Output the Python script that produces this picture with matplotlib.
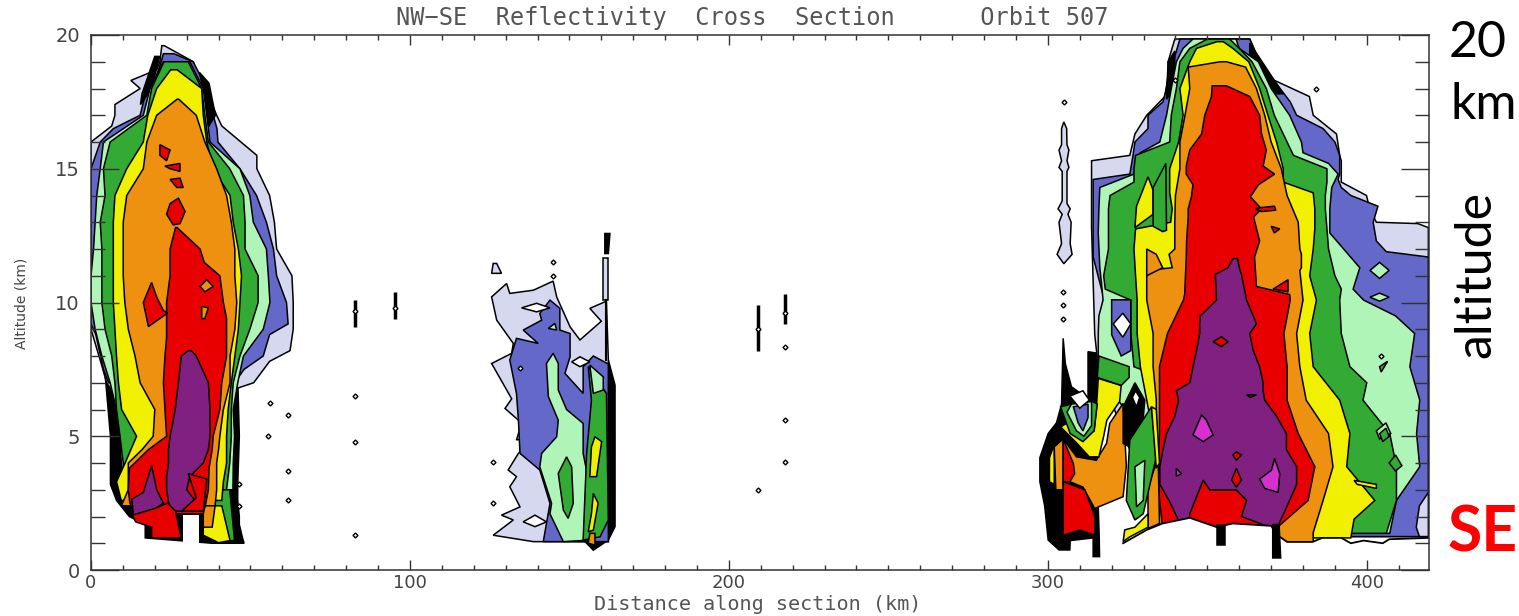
#!/usr/bin/env python3
import matplotlib
matplotlib.use("Agg")
import matplotlib.pyplot as plt

W, H = 1519, 616
LAV, BLUE, LTG, GRN = "#d5d8ee", "#6468c8", "#b0f5b8", "#33aa33"
YEL, ORG, RED, PUR, MAG = "#f0f000", "#ee9010", "#e80000", "#802080", "#d830d0"
LW = 1.1

X_TICKS = [0, 100, 200, 300, 400]
Y_TICKS = [0, 5, 10, 15, 20]
TITLE = "NW\u2212SE  Reflectivity  Cross  Section      Orbit 507"

# ---------------------------------------------------------------------------
# Storm 1, rows of (altitude, left km, right km) per reflectivity level
# ---------------------------------------------------------------------------
s1_blk = [(7.2, 4.5, 46), (5, 6.1, 46.5), (3.2, 6.1, 46), (2.6, 8, 46), (2, 12, 46.5),
          (1.7, 17, 46.5), (1.2, 17, 47.5), (1.0, 38, 48)]
s1_lav = [(19.6, 22.2, 23), (19, 21.6, 32.1), (18.7, 20.6, 33), (18.3, 12.5, 34.2), (18, 15.4, 37),
          (17.4, 7.5, 38), (17, 7.5, 39.4), (16.6, 6.5, 41), (16, 0, 47), (15.5, 0, 52), (15, 0, 52),
          (14, 0, 56), (13, 0, 57.5), (12, 0, 58.2), (11, 0, 63), (10, 0, 63.4), (9, 0, 63.4),
          (8.2, 2, 62.4), (7.8, 3, 56), (7, 4.9, 51), (6.8, 6, 46)]
s1_blue = [(19.3, 22.7, 26), (19, 22, 32), (18.5, 20.6, 34.2), (18, 17.5, 35.7), (17, 15.4, 38.3),
           (16.5, 7, 39.5), (16, 2.9, 39.8), (15, 0, 46.7), (14, 0, 51.9), (13, 0, 55), (12, 0, 57.2),
           (11, 0, 58.2), (10, 0, 61.3), (9.2, 0, 61.8), (8.8, 1.5, 56), (8, 3, 54), (7.5, 3.9, 48),
           (7, 5.5, 45)]
s1_ltg = [(19, 22.7, 31), (18, 18.5, 35.2), (17, 16.4, 36.3), (16, 3.9, 37.3), (15, 2.9, 46.7),
          (14, 1.8, 49.8), (13, 1.3, 50.9), (12, 0.8, 55), (11, 0, 55.6), (10, 0, 56.1), (9, 1.3, 54),
          (8, 3.4, 47.8), (7, 6, 46), (6, 8, 44.6), (5, 9, 45), (4, 9.5, 44.6), (3, 9.5, 44.5)]
s1_grn = [(19, 22.9, 30.5), (18, 19, 34.7), (17, 17.5, 35.7), (16, 6, 36.8), (15, 3.9, 43.5),
          (14, 4.4, 47.8), (13, 2.9, 48.3), (12, 3.4, 48.3), (11, 3.4, 52.4), (10, 3.4, 52.4),
          (9, 4.4, 49.8), (8, 6.5, 46.7), (7, 7.5, 44.6), (6, 8, 44), (5, 9.1, 44), (4, 10.1, 43.5),
          (3, 9.7, 42.5), (2.6, 10, 42.5)]
s1_yel = [(18.7, 25, 27), (18, 20.6, 34.7), (17, 17.8, 35.2), (16, 16.4, 36.3), (15, 11.2, 38.3),
          (14, 7.5, 43.6), (13, 7, 44.6), (12, 7, 46.2), (11, 7, 47.2), (10, 7, 46.7), (9, 7.5, 46.2),
          (8, 8, 45.1), (7, 8.6, 44), (6, 9.6, 43), (5, 14.3, 42.5), (4, 10.7, 42.5), (3.3, 8, 41.5),
          (2.6, 9.5, 41)]
s1_org = [(17.6, 27, 27.5), (17, 20.6, 33), (16, 17.5, 35.7), (15, 16.4, 39.4), (14, 11.2, 42.5),
          (13, 10.1, 44), (12, 10.1, 45.1), (11, 10.1, 45.1), (10, 10.6, 45.7), (9, 11.7, 45.1),
          (8, 13.8, 43.6), (7, 15.4, 43.6), (6, 20, 41.5), (5, 19.5, 40.4), (4.5, 16, 40),
          (4, 11.7, 39.4), (3, 11.7, 39.4), (2.4, 9.5, 38.9)]
s1_red = [(12.8, 26.5, 27), (12, 24.8, 34.2), (11.5, 24.8, 35.5), (11, 24.8, 40.4), (10, 23.7, 41.5),
          (9.4, 23.7, 42.5), (8.7, 23.7, 42.5), (8, 23.2, 42.5), (7, 22.7, 41), (6, 23.2, 40.4),
          (5, 23.7, 38.3), (4.5, 18, 38), (3.8, 12, 37), (3, 11.7, 36.8), (2.5, 12.2, 36),
          (2.1, 14, 35.2)]
s1_pur = [(8.2, 30.5, 31.5), (8, 28.3, 33), (7, 27.4, 36.8), (6, 26.4, 37.3), (5, 24.8, 37.3),
          (4.5, 24.3, 36.8), (4, 24.3, 35.2), (3.5, 23.7, 31), (3, 23.7, 30), (2.2, 24.8, 35.2)]

# Storm 1 patches, as (km, altitude) outlines
s1_blk_right = [(34, 18.6), (37, 18.2), (39, 17), (36.5, 16.5), (35.5, 17.8)]
s1_blk_left = [(20, 19.2), (21.5, 19.2), (19, 18), (15.5, 17.4), (16, 17.8)]
s1_foot_grn = [(36, 3), (43.5, 3), (45, 1.1), (38, 1.1)]
s1_foot_yel = [(35.2, 2.4), (41, 2.4), (43.6, 1.1), (40, 1.02), (35.2, 1.3)]
s1_foot_org = [(35.2, 2.4), (38.9, 2.4), (38, 1.6), (35.2, 1.6)]
s1_red_lobe = [(19, 10.75), (20.6, 10.2), (22.7, 9.7), (24, 9.6), (18, 9.1), (16.4, 10)]
s1_red_isl = [[(21.6, 15.9), (24.8, 15.7), (23.7, 15.3), (21.6, 15.5)],
              [(23.2, 15.1), (27.9, 15.2), (27.9, 14.9), (24.8, 15)],
              [(24.8, 14.6), (27.9, 14.65), (28.9, 14.3), (26.9, 14.3)],
              [(27.4, 13.9), (29.5, 13.4), (27.9, 12.95), (25.8, 12.9), (23.7, 13.3), (24.8, 13.7)]]
s1_org_isl = [[(36.3, 10.85), (38.3, 10.6), (35.7, 10.4), (34.2, 10.6)],
              [(34.7, 9.85), (36.8, 9.8), (35.7, 9.4), (34.7, 9.4)]]
s1_pur_lobe = [(12.8, 2.65), (16.4, 2.9), (19, 3.9), (20.6, 3), (22.7, 2.5), (20, 2.28), (13.3, 2.05)]
s1_red_base = [(13, 2.05), (20, 2.3), (24, 2.5), (26.5, 2.2), (28.3, 1.2), (19, 1.2), (19, 1.6), (14, 1.8)]
s1_red_right = [(30.5, 3.6), (36.3, 3.4), (35.2, 2.2), (28.4, 2.2), (33, 2.7)]
s1_notch = [(28.8, 2.05), (33.8, 2.05), (33.8, 0.9), (28.8, 0.9)]

# ---------------------------------------------------------------------------
# Middle storm
# ---------------------------------------------------------------------------
m_lav = [(125.6, 10.21), (130.3, 10.71), (131.3, 10.34), (138.7, 10.46), (144.9, 10.8), (146, 10.21),
         (150.2, 9.09), (153.3, 8.6), (160, 9.3), (156.4, 9.78), (161.6, 10.05), (162.2, 7.85),
         (162.2, 1.06), (138.7, 1.06), (126.1, 1.3), (132.4, 1.87), (128.7, 2.05), (134.5, 2.36),
         (131.3, 3.11), (133.4, 3.49), (130.8, 3.74), (134, 4.36), (138.1, 4.98), (133.4, 4.86),
         (135, 5.48), (134, 5.6), (129.8, 6.04), (131.9, 6.4), (125.6, 7.72), (131.9, 8.1),
         (132.4, 8.47), (127.2, 9.34)]
m_lav_isl = [(126.1, 11.46), (125.6, 11.09), (128.7, 11.09), (127.2, 11.46)]
m_lav_spike = [(160.4, 11.65), (162.2, 11.65), (162.2, 10.09), (160.6, 10.09)]
m_blk_spike = [(161.1, 12.58), (162.7, 12.58), (162.2, 11.83), (161.1, 11.83)]
m_blk_col = [(162.2, 7.85), (164.3, 6.91), (164.3, 1.62), (162.2, 1.12), (157.5, 0.74), (154.9, 1.06), (160, 7)]
m_blue = [(143.9, 10.09), (147, 9.78), (147, 8.97), (150.2, 8.84), (150.2, 7.97), (148.6, 7.35),
          (154.3, 6.6), (154.3, 7.6), (157.5, 8), (162.2, 7.7), (162.2, 1.06), (141.8, 1.06),
          (143.9, 2.49), (140.7, 3.74), (134.5, 4.36), (134, 5.6), (133.4, 6.6), (131.3, 7.85),
          (133.4, 8.66), (140.2, 8.47), (135.5, 8.97), (141.3, 9.34), (140.7, 9.59)]
m_ltg = [(144.9, 8.1), (146.5, 7.72), (146.5, 6.73), (149.1, 6), (154.3, 5.48), (154.3, 4.36),
         (156.4, 3.11), (156.4, 1.12), (148.1, 1.06), (143.9, 2.1), (144.4, 2.49), (140.7, 3.86),
         (141.3, 4.36), (146, 4.98), (146.5, 5.6), (143.4, 6.48), (142.8, 7.72)]
m_ltg_isl = [(143.4, 9.03), (145.4, 9.22), (146, 8.97)]
m_grn_isl = [(149.1, 4.23), (150.7, 3.86), (151.2, 2.49), (149.6, 1.93), (148.1, 2.24), (146.5, 3.61)]
m_grn_col = [(155.9, 7.6), (161.6, 6.6), (162.2, 1.87), (159.6, 1.24), (154.3, 1.12), (155.4, 4.36), (156.9, 6.35)]
m_ltg_col = [(156.4, 7.66), (160.6, 7.22), (160.6, 6.73), (157.5, 6.6)]
m_yel = [[(158, 4.98), (160.1, 4.8), (158.5, 3.49), (156.4, 3.49), (156.9, 4.6)],
         [(157.5, 2.86), (159, 2.5), (157.5, 1.49), (155.9, 1.43), (156.9, 2.1)]]
m_org = [(156.4, 1.37), (158, 1.37), (158, 0.93), (155.9, 1)]
m_white = [[(135, 9.8), (139.7, 9.97), (143.9, 9.8), (139.7, 9.65)],
           [(135.5, 1.8), (139.2, 2.05), (142.8, 1.8), (139.2, 1.62)],
           [(150.7, 7.78), (153.3, 7.97), (156.4, 7.78), (153.3, 7.6)]]

# ---------------------------------------------------------------------------
# Storm 3, main tower rows of (altitude, left km, right km)
# ---------------------------------------------------------------------------
s3_lav = [(19.85, 339.8, 363.3), (19, 337.7, 366.4), (18.5, 337.7, 367.5), (17.7, 336.7, 382),
          (17, 331, 383.2), (16.3, 327.3, 390.5), (15.5, 325.7, 391.5), (15.3, 313.7, 392),
          (14.5, 313.7, 392), (14, 313.7, 399.9), (13.5, 313.7, 400.9), (13, 313.7, 403),
          (12.95, 313.7, 416), (12.8, 313.7, 419.3), (8.8, 314.7, 419.3), (7.6, 315.8, 419.3),
          (1.25, 336, 419.3)]
s3_blue = [(19.85, 341.4, 363.3), (19, 339.3, 366.4), (17.5, 336.1, 376), (17, 331.4, 378),
           (16.5, 331.4, 386.3), (16, 327.3, 390), (15.5, 326.7, 391.5), (14.8, 325.7, 391.5),
           (14.6, 314.2, 391), (14.3, 314.2, 392), (14, 314.2, 395), (13.6, 314.2, 403.5),
           (13, 314.2, 402), (12.3, 314.2, 403), (11.9, 314.2, 406.1), (11.7, 314.2, 419.3),
           (1.25, 337, 419.3)]
s3_ltg = [(19.85, 345.5, 359), (19.5, 342.4, 360), (19, 340.3, 366), (18, 338.7, 370), (17, 337.2, 375.8),
          (16, 335.1, 379.5), (15.6, 329, 380), (15.2, 328, 388), (14.8, 327, 391), (14.3, 316.3, 389),
          (13.5, 316, 388.4), (12.6, 315.8, 388.4), (11.3, 316.3, 397.8), (10.5, 317, 395.7),
          (10.09, 317.3, 399), (9.5, 316, 409), (8.84, 315.8, 415), (7.6, 315.8, 413.5),
          (6.35, 322, 416.6), (5.1, 330, 415.6), (3.86, 335, 416.6), (2.6, 336, 409.3), (1.37, 337, 407.2)]
s3_grn = [(19.85, 350, 357), (19.5, 344.5, 360), (19, 341.4, 364), (18, 340.3, 368.5), (17, 338.7, 371),
          (16, 338.2, 375), (15.5, 327.5, 377), (15, 327, 387.5), (14.5, 327, 387.5), (14, 319.5, 387),
          (13.5, 319, 387), (12, 319, 388), (11, 317.5, 390), (10.5, 318, 392), (10.09, 326, 391.5),
          (8.84, 326, 392), (7.6, 327, 394.7), (7, 340, 400), (6.35, 336, 398.8), (5.1, 336, 407.2),
          (3.86, 336, 409.3), (2.6, 337, 409.3), (1.37, 337, 406.1)]
s3_yel = [(19.75, 353, 355), (19.5, 346.6, 358), (19, 344.5, 363), (18, 341.4, 366.4), (17, 342.4, 369),
          (16, 341, 371.7), (15, 338.2, 373.8), (14.5, 338.2, 373.8), (14.1, 338.2, 383.2),
          (13.5, 339, 383.7), (13, 338.5, 383.7), (12.75, 327.5, 383.7), (12, 327, 383.2), (11, 327.5, 382.1),
          (10.09, 328, 384.2), (8.84, 328, 382.1), (7.6, 329, 383.2), (6.35, 331, 391.5), (5.1, 333, 394.7),
          (3.86, 333, 393.7), (2.6, 333, 402.5), (1.9, 335, 396), (1.2, 336, 395)]
s3_org = [(19, 354, 356), (18.8, 344, 362), (18, 344.5, 365.4), (17, 343, 368), (16, 341.4, 370),
          (15, 341.4, 373.2), (14, 340, 375), (13, 339.8, 378.5), (12, 339.8, 379), (11.8, 338, 379.5),
          (11.3, 339, 379.5), (11.2, 331, 379), (10.09, 331, 380), (8.84, 333, 378), (7.6, 333, 379),
          (6.35, 334, 381), (5.1, 334, 388), (3.86, 333, 389.4), (2.6, 332, 386.3), (1.4, 331.5, 383.2),
          (1.0, 372, 383.2)]
s3_red = [(18.1, 351.5, 356), (17.7, 351.3, 363.3), (17, 349.2, 366.4), (16.3, 348.2, 367),
          (15.7, 344.5, 368.5), (15.1, 343.4, 367.5), (14.8, 343.4, 371.1), (14.4, 345.5, 366),
          (13.95, 345, 363.5), (13.5, 344, 367), (13.2, 344, 364.5), (12.3, 343.5, 366.4), (11.7, 343.4, 364.8),
          (10.6, 343, 365.4), (10.3, 342.9, 375.8), (10.09, 342.5, 376), (8.84, 337.5, 374), (7.6, 335, 375),
          (6.35, 335, 375), (5.1, 335, 378.5), (3.86, 334.5, 383.7), (2.6, 335, 381.6), (1.6, 336, 372)]
s3_pur = [(11.64, 358, 359.5), (11.3, 356.5, 360), (11.05, 352.5, 360.7), (10.09, 352.9, 362.3),
          (9.5, 347.8, 364.4), (9.2, 347.6, 365.4), (8.84, 347.6, 363.3), (8.2, 346.6, 364.4),
          (7.6, 345.5, 366.4), (7, 344.5, 367.5), (6.7, 340.3, 367.5), (6.35, 341, 368), (5.75, 339.8, 371.7),
          (5.1, 337.2, 374.8), (4.5, 336.1, 374.8), (3.86, 335.1, 378), (3.2, 335.1, 378), (2.6, 338, 375.8),
          (1.6, 342, 372)]

# Storm 3 patches, as (km, altitude) outlines
s3_blk_left = [(337.7, 19), (339.8, 19.4), (339.8, 18), (337.2, 17.6)]
s3_blk_right = [(363.3, 19.7), (373.8, 17.8), (371.7, 17.8), (363.3, 19.2)]
s3_yel_lobe = [(331.4, 14.7), (333, 14.2), (333, 13.3), (327.3, 12.8), (327.8, 13.6)]
s3_grn_finger = [(333, 14.3), (337, 15.2), (337.2, 12.7), (336, 12.65), (333, 12.85)]
s3_org_lobe = [(331, 12), (334, 11.8), (336, 11.3), (331, 11)]
s3_red_tail = [(365, 13.5), (367, 13.55), (371, 13.6), (371.5, 13.45), (367, 13.4)]
s3_red_isl = [[(370.6, 10.5), (375.3, 10.85), (375.3, 10.4)],
              [(370, 12.85), (372.7, 12.75), (371, 12.6)],
              [(354.4, 8.72), (356.5, 8.53), (354.4, 8.35), (351.8, 8.53)],
              [(359.1, 4.42), (360.7, 4.3), (359.1, 4.1), (358, 4.3)],
              [(359.1, 3.8), (360.7, 3.36), (359.1, 3.1), (357.6, 3.36)],
              [(362.3, 6.55), (365.4, 6.55), (363.5, 6.45)]]
s3_red_base = [(344.5, 2.1), (348.7, 3.36), (350.8, 2.99), (359.1, 2.99), (362.3, 2.6), (360.7, 2),
               (369.6, 1.6), (344, 1.6)]
s3_mag = [[(348.2, 5.8), (349.7, 5.6), (351.8, 5.05), (348.7, 4.8), (345.5, 5.05), (346.6, 5.35)],
          [(371.1, 4.17), (372.7, 3.6), (372.2, 2.9), (368, 3.05), (366.4, 3.4), (370.1, 3.73)],
          [(340.3, 3.8), (341.9, 3.6), (340.3, 3.5)]]
s3_ltg_isl = [[(401, 11.2), (404, 11.5), (407, 11.2), (404, 10.9)],
              [(401, 10.2), (404, 10.35), (407, 10.2), (404, 10.05)],
              [(403, 5.2), (406, 5.5), (407.5, 5.1), (404, 4.9)]]
s3_grn_isl = [[(404, 7.6), (406.5, 7.8), (404.5, 7.4)], [(404, 5.1), (406, 5.3), (407, 5), (405, 4.8)],
              [(407, 4), (409, 4.3), (411, 3.9), (409, 3.7)]]
s3_yel_isl = [(396, 3.35), (403, 3.2), (403, 3.05), (397, 3.2)]
s3_lav_corner = [(419.3, 2.9), (416.5, 2.4), (415.5, 1.6), (416.5, 1.25), (419.3, 1.25)]
s3_spire = [(305, 16.75), (305.9, 16.5), (306, 15.9), (306.6, 15.7), (306, 15.3), (306.6, 15.05), (306, 14.9),
            (306, 13.7), (307, 13.5), (306.3, 13.3), (307.3, 13), (307, 12.2), (307.6, 11.8), (305, 11.45),
            (302.9, 11.8), (304.3, 12.2), (303.5, 13), (304.5, 13.3), (303.2, 13.5), (304.5, 13.8),
            (304.5, 14.9), (303.5, 15.05), (304.3, 15.3), (303.5, 15.7), (304.3, 15.9), (304.3, 16.5)]
s3_mask = [(323.6, 1.0), (331, 1.5), (336, 1.74), (344.5, 1.95), (353, 1.6), (358, 1.74), (370, 1.65),
           (372, 1.3), (375, 1.05), (383, 1.05), (386, 1.2), (392, 1.2), (395, 1.0), (399, 1.1), (405, 1.0),
           (407, 1.15), (419.3, 1.2)]
s3_mask_low = [(419.3, 0.4), (323.6, 0.4)]
s3_stubs = [[(352.9, 1.7), (355.5, 1.7), (355.5, 0.95), (352.9, 0.95)],
            [(370.5, 1.7), (372.5, 1.7), (373, 0.45), (370.5, 0.45)]]
s3_gap = [(316.5, 2.3), (319.5, 2.45), (323.1, 2.4), (323.1, 0.4), (316.5, 0.4)]

# Left side lobes of storm 3
s3_blk = [(297.5, 4.2), (300.1, 5.1), (302.7, 5.5), (304.3, 6.2), (304.8, 8.66), (305.5, 7.7), (307.4, 6.85),
          (312.6, 6.4), (312.6, 8.16), (315.8, 8.1), (315.8, 2.36), (316.3, 0.5), (314.2, 0.5), (314.2, 1.2),
          (307, 1.1), (306.9, 0.75), (303.5, 0.75), (300.1, 1.12), (299, 2.4), (297.5, 3.3)]
s3_sub_yel_l = [(300.5, 4.2), (302, 4.7), (302, 3.2), (300.5, 3.3)]
s3_sub_org_l = [(302, 4.6), (304.8, 4.9), (304.8, 3), (302.5, 3)]
s3_sub_org = [(304.8, 4.9), (309, 4.23), (315.2, 4.1), (318.4, 4.73), (319.4, 5.48), (323.6, 6.23), (324.6, 3.9),
              (323.6, 2.74), (314.7, 2.3), (311, 3.1), (306.9, 3.3)]
s3_sub_red = [(304.8, 3.3), (311.6, 3), (314.7, 2), (314.7, 1.3), (310, 1.5), (304.8, 1.3)]
s3_sub_red2 = [(304.8, 4.9), (308, 3.98), (308.4, 3.6), (306.9, 3.3), (304.8, 3.3)]
s3_sub_yel = [(304, 5.35), (309, 4.75), (313, 4.23), (316, 4.23), (317.5, 5), (318.5, 5.6), (322.5, 6.3), (323, 6.9),
              (315.8, 7.16), (315.2, 6), (314.5, 5.2), (312, 5), (307.5, 5.6)]
s3_sub_grn = [(304, 6.1), (307, 5.1), (311, 4.8), (314.5, 5.2), (315.5, 6.2), (312.6, 6.4), (307.4, 6.2)]
s3_sub_grn_up = [(315.5, 7.2), (323, 6.9), (325.5, 7.2), (325.5, 7.6), (316, 8)]
s3_sub_ltg = [(306, 5.9), (309, 5.2), (311.3, 5), (313.7, 5.4), (313.7, 6.3), (307.4, 6.2)]
s3_sub_blue = [(308, 6.1), (309.5, 5.5), (311, 5.2), (312.6, 5.7), (312.6, 6.2)]
s3_sub_white = [(306.9, 6.5), (310, 6.05), (313, 6.35), (311, 6.7)]
s3_pocket_blue = [(320, 10.1), (326, 10.1), (326, 8.2), (323, 8), (320, 8.8)]
s3_pocket_white = [(320.5, 9.2), (323.5, 9.6), (326, 9.2), (323.5, 8.7)]
s3_col_blk = [(323.6, 6.1), (327.3, 7), (330.4, 6.35), (329.3, 4.86), (327.3, 4.5), (323.6, 4.73)]
s3_col_white = [(326.5, 6.45), (327.5, 6.7), (328.8, 6.45), (327.8, 6.1)]
s3_col_grn = [(325.7, 4.86), (332.5, 6.1), (334, 4.23), (329.9, 2.1), (327.3, 1.87), (324.6, 2.6)]
s3_col_ltg = [(327.3, 3.86), (330.4, 4.1), (329.9, 2.6), (327.8, 2.36)]
s3_col_yel = [(332.5, 6.1), (334, 6), (335, 4), (334, 3.8)]
s3_col_org = [(331.4, 3.1), (334.6, 4.2), (335, 1.74), (331.4, 1.55)]
s3_col_base = [(324.1, 1.5), (327.3, 1.6), (331.4, 2.1), (331.4, 1.6), (325.7, 1.24), (323.6, 1.06)]

# Isolated echoes
iso_km = [82.8, 95.3, 209, 217.5, 82.8, 82.8, 82.8, 209, 217.6, 217.6, 217.6, 55.5, 61.8, 61.8, 61.8, 56,
          144.9, 144.9, 126.1, 126.1, 134.5, 305, 304.8, 304.8, 304.8, 340, 384, 46.5, 46.5, 404.5]
iso_alt = [9.7, 9.8, 9, 9.6, 6.5, 4.8, 1.3, 3, 5.6, 4.05, 8.35, 5, 5.8, 3.7, 2.6, 6.25,
           11.5, 11, 4.05, 2.5, 7.55, 17.5, 10.4, 9.9, 9.4, 18.3, 18, 3.2, 2.4, 8]
iso_tall_km = [82.8, 95.3, 209, 217.5]
iso_tall_lo = [9.1, 9.4, 8.2, 9.2]
iso_tall_hi = [10.1, 10.4, 9.9, 10.3]


def poly(verts, color, lw=LW):
    xs, ys = zip(*verts)
    ax.fill(xs, ys, facecolor=color, edgecolor="black", linewidth=lw)


def band(rows, color):
    lefts = [(r[1], r[0]) for r in rows]
    rights = [(r[2], r[0]) for r in rows[::-1]]
    poly(lefts + rights, color)


fig = plt.figure(figsize=(W / 100, H / 100), dpi=100, facecolor="white")
ax = fig.add_axes([91 / W, 1 - 570 / H, (1429 - 91) / W, (570 - 35) / H])

# storm 1
band(s1_blk, "black")
band(s1_lav, LAV)
band(s1_blue, BLUE)
poly(s1_blk_right, "black")
poly(s1_blk_left, "black")
band(s1_ltg, LTG)
band(s1_grn, GRN)
poly(s1_foot_grn, GRN)
band(s1_yel, YEL)
poly(s1_foot_yel, YEL)
band(s1_org, ORG)
poly(s1_foot_org, ORG)
band(s1_red, RED)
poly(s1_red_lobe, RED)
for v in s1_red_isl:
    poly(v, RED)
for v in s1_org_isl:
    poly(v, ORG)
band(s1_pur, PUR)
poly(s1_pur_lobe, PUR)
poly(s1_red_base, RED)
poly(s1_red_right, RED)
poly(s1_notch, "white", lw=0)

# middle storm
poly(m_blk_col, "black")
poly(m_lav, LAV)
poly(m_lav_isl, LAV)
poly(m_lav_spike, LAV)
poly(m_blk_spike, "black")
ax.plot([161.6, 161.6], [10.09, 7.85], color="black", lw=1.5)
poly(m_blue, BLUE)
poly(m_ltg, LTG)
poly(m_ltg_isl, LTG)
poly(m_grn_isl, GRN)
poly(m_grn_col, GRN)
poly(m_ltg_col, LTG)
for v in m_yel:
    poly(v, YEL)
poly(m_org, ORG)
for v in m_white:
    poly(v, "white")

# storm 3
poly(s3_blk, "black")
poly(s3_spire, LAV)
band(s3_lav, LAV)
band(s3_blue, BLUE)
poly(s3_blk_left, "black")
poly(s3_blk_right, "black")
for rows, c in [(s3_ltg, LTG), (s3_grn, GRN), (s3_yel, YEL)]:
    band(rows, c)
poly(s3_yel_lobe, YEL)
poly(s3_grn_finger, GRN)
band(s3_org, ORG)
poly(s3_org_lobe, ORG)
band(s3_red, RED)
poly(s3_red_tail, RED)
band(s3_pur, PUR)
poly(s3_red_base, RED)
for v in s3_red_isl:
    poly(v, RED)
for v in s3_mag:
    poly(v, MAG)
for v in s3_ltg_isl:
    poly(v, LTG)
for v in s3_grn_isl:
    poly(v, GRN)
poly(s3_yel_isl, YEL)
poly(s3_lav_corner, LAV)
for v, c in [(s3_sub_yel_l, YEL), (s3_sub_org_l, ORG), (s3_sub_org, ORG), (s3_sub_red, RED), (s3_sub_red2, RED),
             (s3_sub_yel, YEL), (s3_sub_grn, GRN), (s3_sub_grn_up, GRN), (s3_sub_ltg, LTG), (s3_sub_blue, BLUE),
             (s3_sub_white, "white"), (s3_pocket_blue, BLUE), (s3_pocket_white, "white"),
             (s3_col_org, ORG), (s3_col_blk, "black"), (s3_col_white, "white"), (s3_col_grn, GRN),
             (s3_col_ltg, LTG), (s3_col_yel, YEL)]:
    poly(v, c)
poly(s3_gap, "white", lw=0)
poly(s3_mask + s3_mask_low, "white", lw=0)
ax.plot(*zip(*s3_mask), color="black", lw=1.3)
poly(s3_col_base, YEL)
for v in s3_stubs:
    poly(v, "black")

# isolated echoes
ax.vlines(iso_tall_km, iso_tall_lo, iso_tall_hi, color="black", lw=2.5)
ax.plot(iso_km, iso_alt, ls="none", marker="D", ms=2.5, mfc="white", mec="black", mew=1)

ax.set_xlim(0, 419.5)
ax.set_ylim(0, 20)
ax.set_xticks(X_TICKS)
ax.set_yticks(Y_TICKS)
ax.set_xticks(range(0, 420, 10), minor=True)
ax.set_yticks(range(0, 21), minor=True)
ax.tick_params(axis="x", which="major", direction="in", top=True, bottom=True, length=7.5, width=1,
               color="#333333", labelsize=13, labelcolor="#444444", pad=3)
ax.tick_params(axis="x", which="minor", direction="in", top=True, bottom=True, length=3.5, width=1, color="#333333")
ax.tick_params(axis="y", which="major", direction="in", left=True, right=True, length=20, width=1,
               color="#333333", labelsize=14, labelcolor="#444444", pad=8)
ax.tick_params(axis="y", which="minor", direction="in", left=True, right=True, length=10, width=1, color="#333333")
for s in ax.spines.values():
    s.set_linewidth(1.1)
    s.set_color("#333333")

fig.text(752 / W, 1 - 18 / H, TITLE, family="DejaVu Sans Mono", fontsize=17, color="#555555", ha="center", va="center")
fig.text(758 / W, 1 - 605 / H, "Distance along section (km)", family="DejaVu Sans Mono", fontsize=14.5,
         color="#555555", ha="center", va="center")
fig.text(22 / W, 1 - 303 / H, "Altitude (km)", fontsize=10, color="#444444", rotation=90, ha="center", va="center")

# annotations beside the plot
fig.text(1478 / W, 1 - 43 / H, "20", family="Lato", fontsize=36, color="black", ha="center", va="center")
fig.text(1484 / W, 1 - 105 / H, "km", family="Lato", fontsize=36, color="black", ha="center", va="center")
fig.text(1476 / W, 1 - 275 / H, "altitude", family="Lato", fontsize=36, color="black", rotation=90, ha="center", va="center")
fig.text(1483 / W, 1 - 533 / H, "SE", family="Lato", fontsize=45, fontweight="bold", color="#ff0000", ha="center", va="center")

fig.savefig("out.png", dpi=100)
